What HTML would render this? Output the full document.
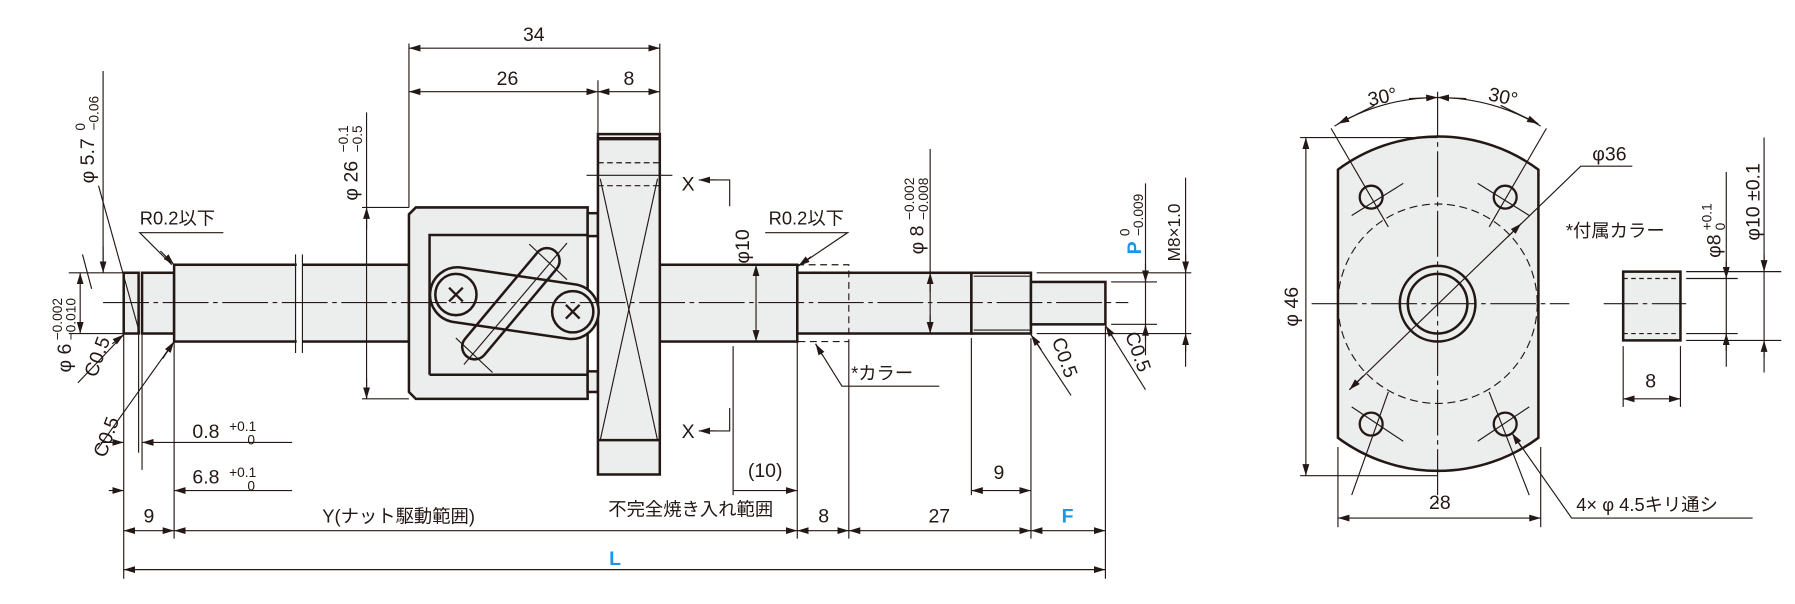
<!DOCTYPE html>
<html><head><meta charset="utf-8"><style>
html,body{margin:0;padding:0;background:#fff;}
svg{display:block;}
text{font-family:"Liberation Sans Narrow","Liberation Sans","Noto Sans CJK JP",sans-serif;fill:#231815;font-size:17px;}
.j{font-family:"Liberation Sans","Noto Sans CJK JP",sans-serif;font-size:16px;}
.b{fill:#1e96e6;font-weight:bold;font-family:"Liberation Sans",sans-serif;}
.s{font-size:12px;}
</style></head><body>
<svg width="1795" height="604" viewBox="0 0 1567 527" preserveAspectRatio="none" xmlns="http://www.w3.org/2000/svg">
<defs>
<marker id="a" viewBox="0 0 10 6" refX="10" refY="3" markerWidth="10" markerHeight="6" orient="auto-start-reverse" markerUnits="userSpaceOnUse"><path d="M0,0 L10,3 L0,6z" fill="#231815"/></marker>
</defs>
<g stroke="#231815" fill="none" stroke-width="1">
<g fill="#eceeee" stroke-width="2.2">
<rect x="108" y="238" width="13" height="53"/>
<rect x="124" y="238" width="28" height="53"/>
<rect x="152" y="231" width="205" height="67"/>
<rect x="576" y="231" width="120" height="67"/>
<rect x="696" y="238" width="152" height="53"/>
<rect x="848" y="238" width="52" height="53"/>
<rect x="900" y="246" width="65" height="37"/>
<path d="M363,181 L513,181 L513,348 L363,348 L357,342 L357,187 Z"/>
<rect x="513" y="186" width="9" height="20"/>
<rect x="513" y="324" width="9" height="18"/>
<rect x="522" y="117" width="54" height="297"/>
</g>
<rect x="259" y="225" width="5" height="80" fill="#fff" stroke="none"/>
<line x1="258" y1="222" x2="258" y2="308"/><line x1="264" y1="222" x2="264" y2="308"/>
<path d="M375,327 L375,205 L513,205 M513,327 L375,327" stroke-width="2.2"/>
<line x1="522" y1="121" x2="576" y2="121" stroke-width="3"/>
<line x1="522" y1="384" x2="576" y2="384" stroke-width="2.2"/>
<line x1="522" y1="142" x2="576" y2="142" stroke-dasharray="5,3"/>
<line x1="522" y1="162" x2="576" y2="162" stroke-dasharray="5,3"/>
<line x1="512" y1="153" x2="587" y2="153"/>
<line x1="524" y1="156" x2="574" y2="384"/><line x1="574" y1="156" x2="524" y2="384"/>
<line x1="850" y1="241" x2="900" y2="241"/><line x1="850" y1="288" x2="900" y2="288"/>
<!-- nut linkage -->
<path d="M401.5,233.3 L503.5,248.3 A24,24 0 0 1 496.5,295.7 L394.5,280.7 A24,24 0 0 1 401.5,233.3 Z" fill="#eceeee" stroke-width="2.2"/>
<rect x="435" y="205" width="22" height="120" rx="11" transform="rotate(40 446 265)" fill="none" stroke-width="2.2"/>
<circle cx="398" cy="257" r="18" fill="#eceeee" stroke-width="2.2"/>
<circle cx="500" cy="272" r="18" fill="#eceeee" stroke-width="2.2"/>
<path d="M392,251 l12,12 m0,-12 l-12,12 M494,266 l12,12 m0,-12 l-12,12" stroke-width="2"/>
<line x1="405" y1="318" x2="495" y2="212"/><line x1="398" y1="295" x2="430" y2="325"/><line x1="462" y1="213" x2="495" y2="244"/>
<line x1="90" y1="264" x2="985" y2="264" stroke-dasharray="40,4,4,4"/>
<path d="M696,231 L741,231 L741,298 L696,298" stroke-dasharray="6,4"/>
<line x1="357" y1="38" x2="357" y2="181"/><line x1="576" y1="38" x2="576" y2="117"/><line x1="522" y1="70" x2="522" y2="117"/>
<line x1="357" y1="42" x2="576" y2="42" marker-start="url(#a)" marker-end="url(#a)"/>
<line x1="357" y1="80" x2="522" y2="80" marker-start="url(#a)" marker-end="url(#a)"/>
<line x1="522" y1="80" x2="576" y2="80" marker-start="url(#a)" marker-end="url(#a)"/>
<line x1="316" y1="181" x2="357" y2="181"/><line x1="316" y1="348" x2="357" y2="348"/>
<line x1="320" y1="98" x2="320" y2="348"/>
<line x1="320" y1="200" x2="320" y2="181" marker-end="url(#a)"/><line x1="320" y1="330" x2="320" y2="348" marker-end="url(#a)"/>
<line x1="90" y1="62" x2="90" y2="238"/><line x1="90" y1="215" x2="90" y2="238" marker-end="url(#a)"/>
<line x1="60" y1="238" x2="108" y2="238"/><line x1="60" y1="291" x2="108" y2="291"/>
<line x1="70" y1="238" x2="70" y2="291" marker-start="url(#a)" marker-end="url(#a)"/>
<line x1="86" y1="162" x2="122" y2="291"/><line x1="72" y1="222" x2="80" y2="252"/>
<path d="M195,203 L122,203 L150,231" /><line x1="140" y1="219" x2="152" y2="231" marker-end="url(#a)"/>
<line x1="68" y1="334" x2="108" y2="292"/><line x1="98" y1="300" x2="108" y2="292" marker-end="url(#a)"/>
<line x1="85" y1="392" x2="152" y2="298"/><line x1="142" y1="313" x2="152" y2="298" marker-end="url(#a)"/>
<line x1="108" y1="292" x2="108" y2="505"/><line x1="121" y1="292" x2="121" y2="395"/><line x1="124" y1="292" x2="124" y2="410"/><line x1="152" y1="298" x2="152" y2="470"/>
<line x1="88" y1="386" x2="108" y2="386" marker-end="url(#a)"/><line x1="255" y1="386" x2="124" y2="386" marker-end="url(#a)"/>
<line x1="95" y1="428" x2="108" y2="428" marker-end="url(#a)"/><line x1="255" y1="428" x2="152" y2="428" marker-end="url(#a)"/>
<line x1="696" y1="298" x2="696" y2="470"/><line x1="741" y1="298" x2="741" y2="470"/><line x1="848" y1="295" x2="848" y2="432"/><line x1="900" y1="295" x2="900" y2="470"/><line x1="965" y1="285" x2="965" y2="505"/><line x1="640" y1="302" x2="640" y2="432"/>
<line x1="108" y1="463" x2="152" y2="463" marker-start="url(#a)" marker-end="url(#a)"/>
<line x1="152" y1="463" x2="696" y2="463" marker-start="url(#a)" marker-end="url(#a)"/>
<line x1="696" y1="463" x2="741" y2="463" marker-start="url(#a)" marker-end="url(#a)"/>
<line x1="741" y1="463" x2="900" y2="463" marker-start="url(#a)" marker-end="url(#a)"/>
<line x1="900" y1="463" x2="965" y2="463" marker-start="url(#a)" marker-end="url(#a)"/>
<line x1="108" y1="497" x2="965" y2="497" marker-start="url(#a)" marker-end="url(#a)"/>
<line x1="640" y1="428" x2="696" y2="428" marker-end="url(#a)"/>
<line x1="848" y1="428" x2="900" y2="428" marker-start="url(#a)" marker-end="url(#a)"/>
<path d="M637,180 L637,157 L612,157"/><line x1="625" y1="157" x2="610" y2="157" marker-end="url(#a)"/>
<path d="M637,356 L637,376 L612,376"/><line x1="625" y1="376" x2="610" y2="376" marker-end="url(#a)"/>
<line x1="660" y1="231" x2="660" y2="298" marker-start="url(#a)" marker-end="url(#a)"/>
<path d="M668,203 L740,203 L697,232"/><line x1="708" y1="224" x2="697" y2="232" marker-end="url(#a)"/>
<path d="M820,337 L735,337 L712,300"/><line x1="718" y1="310" x2="712" y2="300" marker-end="url(#a)"/>
<line x1="812" y1="130" x2="812" y2="291"/><line x1="812" y1="255" x2="812" y2="238" marker-end="url(#a)"/><line x1="812" y1="275" x2="812" y2="291" marker-end="url(#a)"/>
<line x1="935" y1="345" x2="900" y2="292" /><line x1="909" y1="305" x2="900" y2="292" marker-end="url(#a)"/>
<line x1="1000" y1="340" x2="965" y2="284"/><line x1="974" y1="298" x2="965" y2="284" marker-end="url(#a)"/>
<line x1="905" y1="238" x2="1040" y2="238"/><line x1="905" y1="291" x2="1040" y2="291"/>
<line x1="970" y1="246" x2="1010" y2="246"/><line x1="970" y1="283" x2="1010" y2="283"/>
<line x1="1000" y1="160" x2="1000" y2="310"/><line x1="1000" y1="230" x2="1000" y2="246" marker-end="url(#a)"/><line x1="1000" y1="298" x2="1000" y2="283" marker-end="url(#a)"/>
<line x1="1035" y1="155" x2="1035" y2="320"/><line x1="1035" y1="222" x2="1035" y2="238" marker-end="url(#a)"/><line x1="1035" y1="307" x2="1035" y2="291" marker-end="url(#a)"/>

<path d="M1168,148 A147,147 0 0 1 1343,148 L1343,382 A147,147 0 0 1 1168,382 Z" fill="#eceeee" stroke-width="2.2"/>
<circle cx="1255" cy="265" r="87" stroke-dasharray="7,4"/>
<circle cx="1255" cy="265" r="33" stroke-width="2.2"/>
<circle cx="1255" cy="265" r="26" stroke-width="2.2"/>
<line x1="1255" y1="80" x2="1255" y2="440" stroke-dasharray="40,4,4,4"/>
<line x1="1145" y1="265" x2="1370" y2="265" stroke-dasharray="40,4,4,4"/>
<g stroke-width="2"><circle cx="1197" cy="172" r="10"/><circle cx="1314" cy="172" r="10"/><circle cx="1197" cy="370" r="10"/><circle cx="1314" cy="370" r="10"/></g>
<line x1="1162" y1="112" x2="1212" y2="198"/><line x1="1350" y1="112" x2="1300" y2="198"/>
<line x1="1180" y1="432" x2="1212" y2="342"/><line x1="1335" y1="432" x2="1300" y2="342"/>
<path d="M1180,188 L1225,160 M1290,160 L1335,188 M1180,355 L1225,385 M1290,385 L1335,355"/>
<path d="M1165,110 A175,175 0 0 1 1345,110" /><line x1="1200" y1="92" x2="1168" y2="108" marker-end="url(#a)"/><line x1="1310" y1="92" x2="1343" y2="108" marker-end="url(#a)"/>
<line x1="1230" y1="86" x2="1255" y2="85" marker-end="url(#a)"/><line x1="1280" y1="86" x2="1255" y2="85" marker-end="url(#a)"/>
<line x1="1135" y1="120" x2="1255" y2="120"/><line x1="1135" y1="415" x2="1255" y2="415"/>
<line x1="1140" y1="120" x2="1140" y2="415" marker-start="url(#a)" marker-end="url(#a)"/>
<line x1="1168" y1="390" x2="1168" y2="460"/><line x1="1345" y1="390" x2="1345" y2="460"/>
<line x1="1168" y1="452" x2="1345" y2="452" marker-start="url(#a)" marker-end="url(#a)"/>
<path d="M1425,145 L1380,145 L1178,340"/><line x1="1190" y1="328" x2="1178" y2="340" marker-end="url(#a)"/><line x1="1316" y1="207" x2="1328" y2="195" marker-end="url(#a)"/>
<path d="M1530,452 L1372,452 L1320,378"/><line x1="1328" y1="390" x2="1320" y2="378" marker-end="url(#a)"/>
<rect x="1417" y="237" width="50" height="60" fill="#eceeee" stroke-width="2.2"/>
<line x1="1417" y1="243" x2="1467" y2="243" stroke-dasharray="4,3"/><line x1="1417" y1="291" x2="1467" y2="291" stroke-dasharray="4,3"/>
<line x1="1400" y1="265" x2="1475" y2="265" stroke-dasharray="30,4,4,4"/>
<line x1="1472" y1="243" x2="1517" y2="243"/><line x1="1472" y1="291" x2="1517" y2="291"/>
<line x1="1472" y1="237" x2="1555" y2="237"/><line x1="1472" y1="297" x2="1555" y2="297"/>
<line x1="1507" y1="150" x2="1507" y2="320"/><line x1="1507" y1="228" x2="1507" y2="243" marker-end="url(#a)"/><line x1="1507" y1="306" x2="1507" y2="291" marker-end="url(#a)"/>
<line x1="1540" y1="120" x2="1540" y2="325"/><line x1="1540" y1="222" x2="1540" y2="237" marker-end="url(#a)"/><line x1="1540" y1="312" x2="1540" y2="297" marker-end="url(#a)"/>
<line x1="1417" y1="302" x2="1417" y2="355"/><line x1="1467" y1="302" x2="1467" y2="355"/>
<line x1="1417" y1="348" x2="1467" y2="348" marker-start="url(#a)" marker-end="url(#a)"/>
</g>

<text x="466" y="36" text-anchor="middle">34</text>
<text x="443" y="74" text-anchor="middle">26</text>
<text x="549" y="74" text-anchor="middle">8</text>
<g transform="translate(312,175) rotate(-90)"><text x="0" y="0">φ 26</text><text x="42" y="-8" class="s">−0.1</text><text x="42" y="4" class="s">−0.5</text></g>
<g transform="translate(82,160) rotate(-90)"><text x="0" y="0">φ 5.7</text><text x="46" y="-8" class="s">0</text><text x="46" y="4" class="s">−0.06</text></g>
<g transform="translate(62,325) rotate(-90)"><text x="0" y="0">φ 6</text><text x="28" y="-8" class="s">−0.002</text><text x="28" y="4" class="s">−0.010</text></g>
<text x="84" y="330" transform="rotate(-70 84 330)">C0.5</text>
<text x="92" y="400" transform="rotate(-70 92 400)">C0.5</text>
<text x="122" y="196" class="j">R0.2以下</text>
<text x="168" y="382">0.8</text><text x="200" y="376" class="s">+0.1</text><text x="216" y="388" class="s">0</text>
<text x="168" y="422">6.8</text><text x="200" y="416" class="s">+0.1</text><text x="216" y="428" class="s">0</text>
<text x="130" y="456" text-anchor="middle">9</text>
<text x="348" y="456" text-anchor="middle" class="j">Y(ナット駆動範囲)</text>
<text x="603" y="450" text-anchor="middle" class="j">不完全焼き入れ範囲</text>
<text x="719" y="456" text-anchor="middle">8</text>
<text x="820" y="456" text-anchor="middle">27</text>
<text x="932" y="456" text-anchor="middle" class="b">F</text>
<text x="537" y="493" text-anchor="middle" class="b">L</text>
<text x="668" y="416" text-anchor="middle">(10)</text>
<text x="872" y="418" text-anchor="middle">9</text>
<text x="595" y="166">X</text><text x="595" y="382">X</text>
<text x="654" y="230" transform="rotate(-90 654 230)">φ10</text>
<text x="671" y="196" class="j">R0.2以下</text>
<text x="743" y="331" class="j">*カラー</text>
<g transform="translate(806,222) rotate(-90)"><text x="0" y="0">φ 8</text><text x="30" y="-8" class="s">−0.002</text><text x="30" y="4" class="s">−0.008</text></g>
<text x="918" y="297" transform="rotate(70 918 297)">C0.5</text>
<text x="982" y="292" transform="rotate(70 982 292)">C0.5</text>
<g transform="translate(996,222) rotate(-90)"><text x="0" y="0" class="b">P</text><text x="16" y="-10" class="s">0</text><text x="16" y="2" class="s">−0.009</text></g>
<text x="1030" y="228" transform="rotate(-90 1030 228)" style="font-family:'Liberation Sans',sans-serif;font-size:15px">M8×1.0</text>
<text x="1208" y="90" text-anchor="middle" transform="rotate(-12 1208 90)">30°</text>
<text x="1311" y="90" text-anchor="middle" transform="rotate(12 1311 90)">30°</text>
<text x="1405" y="140" text-anchor="middle">φ36</text>
<text x="1133" y="285" transform="rotate(-90 1133 285)">φ 46</text>
<text x="1257" y="444" text-anchor="middle">28</text>
<text x="1376" y="446" class="j">4× φ 4.5キリ通シ</text>
<text x="1367" y="207" class="j">*付属カラー</text>
<g transform="translate(1502,225) rotate(-90)"><text x="0" y="0">φ8</text><text x="24" y="-8" class="s">+0.1</text><text x="24" y="4" class="s">0</text></g>
<text x="1536" y="210" transform="rotate(-90 1536 210)">φ10 ±0.1</text>
<text x="1441" y="338" text-anchor="middle">8</text>
</svg>
</body></html>
